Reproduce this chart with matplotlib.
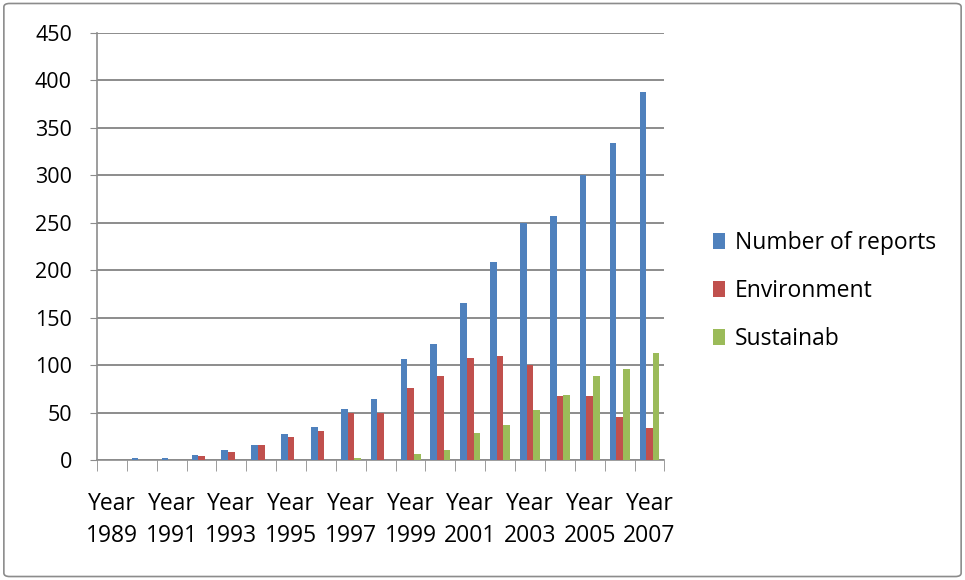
import numpy as np
import matplotlib.pyplot as plt
from matplotlib.patches import FancyBboxPatch

plt.rcParams['font.family'] = ['Open Sans', 'DejaVu Sans']

years = list(range(1989, 2008))
reports = [0, 2, 2, 5, 10, 16, 27, 35, 54, 64, 106, 122, 165, 209, 250, 257, 300, 334, 388]
environment = [0, 0, 0, 4, 8, 16, 24, 31, 50, 50, 76, 88, 107, 110, 100, 67, 67, 45, 34]
sustainab = [0, 0, 0, 0, 0, 0, 0, 0, 2, 0, 6, 10, 28, 37, 53, 68, 88, 96, 113]
series_names = ["Number of reports", "Environment", "Sustainab"]
colors = ["#4F81BD", "#C0504D", "#9BBB59"]

fig = plt.figure(figsize=(9.65, 5.8), dpi=100)
ax = fig.add_axes([0.1005, 0.207, 0.588, 0.736])

x = np.arange(len(years))
w = 1 / 4.5
for i, (vals, name) in enumerate(zip([reports, environment, sustainab], series_names)):
    ax.bar(x + (i - 1) * w, vals, width=w, color=colors[i], label=name, zorder=3)

ax.set_xlim(-0.5, len(years) - 0.5)
ax.set_ylim(0, 450)
ax.set_yticks(range(0, 451, 50))
ax.yaxis.grid(True, color="#8c8c8c", linewidth=1.4, zorder=0)
ax.tick_params(axis="y", length=5, color="#8c8c8c", labelsize=15.5, pad=13)

ax.set_xticks(x[::2])
ax.set_xticklabels(["Year\n%d" % y for y in years[::2]], fontsize=16.5, linespacing=1.45)
ax.set_xticks(np.arange(-0.5, len(years), 1), minor=True)
ax.tick_params(axis="x", which="major", length=0, pad=23)
ax.tick_params(axis="x", which="minor", length=8, color="#8c8c8c")

for s in ["top", "right"]:
    ax.spines[s].set_visible(False)
for s in ["left", "bottom"]:
    ax.spines[s].set_color("#8c8c8c")
    ax.spines[s].set_linewidth(1.2)

ax.legend(loc="center left", bbox_to_anchor=(1.05, 0.395), frameon=False, fontsize=16.5,
          handlelength=0.5, handleheight=0.7, handletextpad=0.45, labelspacing=1.05)

border = FancyBboxPatch((0.004, 0.006), 0.992, 0.988, boxstyle="round,pad=0,rounding_size=0.006",
                        transform=fig.transFigure, fill=False, edgecolor="#8c8c8c", linewidth=1.2)
fig.patches.append(border)

fig.savefig("out.png", dpi=100)
